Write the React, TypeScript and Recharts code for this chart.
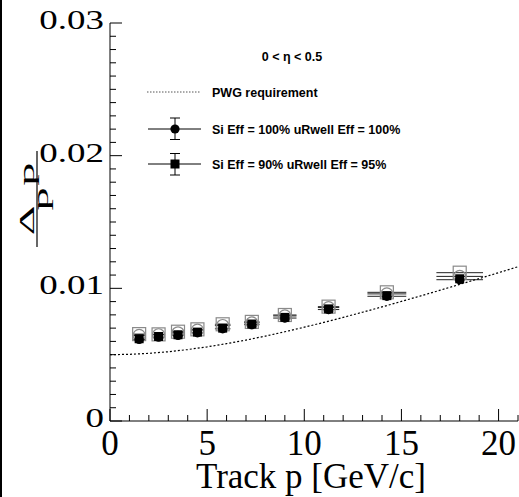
import { ScatterChart, Scatter, XAxis, YAxis, ErrorBar } from "recharts";

// bin centres and half widths of track momentum [GeV/c]
const pCenters = [1.5, 2.5, 3.5, 4.5, 5.8, 7.3, 9.0, 11.25, 14.25, 18.0];
const pHalfWidth = [0.3, 0.3, 0.3, 0.3, 0.4, 0.4, 0.6, 0.55, 1.0, 1.2];

// dp/p for each configuration
const siFullUrwellFull = [0.00615, 0.00632, 0.00645, 0.00665, 0.00695, 0.00726, 0.00776, 0.0084, 0.0094, 0.01065];
const si90Urwell95 = [0.0062, 0.00637, 0.0065, 0.0067, 0.007, 0.00731, 0.00781, 0.00845, 0.00945, 0.01072];
const openCircleVals = [0.00645, 0.0065, 0.00665, 0.00685, 0.0072, 0.0074, 0.00792, 0.00855, 0.00958, 0.0109];
const openSquareVals = [0.00655, 0.00653, 0.00673, 0.00691, 0.00729, 0.00747, 0.00799, 0.00862, 0.0097, 0.01118];

// PWG requirement curve
const pwgP = [0, 1, 2, 3, 4, 5, 6, 7, 8, 9, 10, 11, 12, 13, 14, 15, 16, 17, 18, 19, 20, 21];
const pwgRes = [
  0.005, 0.005025, 0.0051, 0.00522, 0.005385, 0.00559, 0.00583, 0.0061, 0.0064, 0.006727, 0.00707,
  0.00743, 0.00781, 0.0082, 0.0086, 0.009014, 0.009434, 0.00986, 0.0103, 0.010735, 0.01118, 0.01163,
];

const xTicks = Array.from({ length: 22 }, (_, i) => i);
const yTicks = Array.from({ length: 31 }, (_, i) => +(i * 0.001).toFixed(3));

const toRows = (vals: number[]) =>
  pCenters.map((p, i) => ({ p, v: vals[i], ex: pHalfWidth[i] }));

const pwgRows = pwgP.map((p, i) => ({ p, v: pwgRes[i] }));

const serif = "'Liberation Serif', 'Times New Roman', serif";
const sans = "'Liberation Sans', Arial, sans-serif";

const isMajorX = (v: number) => Math.abs(v % 5) < 1e-6;
const isMajorY = (v: number) => Math.abs(v * 100 - Math.round(v * 100)) < 1e-6;

function BottomTick({ x, y, payload }: any) {
  const v = payload.value;
  const major = isMajorX(v);
  return (
    <g>
      <line x1={x} x2={x} y1={y} y2={y - (major ? 12 : 6)} stroke="#000" />
      {major && (
        <text x={x} y={y + 34} textAnchor="middle" style={{ fontFamily: serif }} fontSize={35} fill="#000">
          {v}
        </text>
      )}
    </g>
  );
}

function TopTick({ x, y, payload }: any) {
  const major = isMajorX(payload.value);
  return <line x1={x} x2={x} y1={y} y2={y + (major ? 12 : 6)} stroke="#000" />;
}

function LeftTick({ x, y, payload }: any) {
  const v = payload.value;
  const major = isMajorY(v);
  return (
    <g>
      <line x1={x} x2={x + (major ? 12 : 6)} y1={y} y2={y} stroke="#000" />
      {major && (
        <g transform={`translate(${x - 6},${y + 6})`}>
          <text textAnchor="end" transform="scale(1.32,1)" style={{ fontFamily: serif }} fontSize={28} fill="#000">
            {v === 0 ? "0" : v.toFixed(2)}
          </text>
        </g>
      )}
    </g>
  );
}

function RightTick({ x, y, payload }: any) {
  const major = isMajorY(payload.value);
  return <line x1={x} x2={x - (major ? 12 : 6)} y1={y} y2={y} stroke="#000" />;
}

const FilledCircle = ({ cx, cy }: any) => <circle cx={cx} cy={cy} r={4.6} fill="#000" />;
const FilledSquare = ({ cx, cy }: any) => <rect x={cx - 4.5} y={cy - 4.5} width={9} height={9} fill="#000" />;
const OpenCircle = ({ cx, cy }: any) => (
  <circle cx={cx} cy={cy} r={6} fill="none" stroke="#8a8a8a" strokeWidth={1.2} />
);
const OpenSquare = ({ cx, cy }: any) => (
  <rect x={cx - 6.5} y={cy - 6.5} width={13} height={13} fill="none" stroke="#8a8a8a" strokeWidth={1.2} />
);
const NoMark = () => <g />;

export default function App() {
  return (
    <div style={{ position: "absolute", left: 0, top: 0, width: 519, height: 497, background: "#fff", overflow: "hidden" }}>
      <ScatterChart width={519} height={497} margin={{ top: 23, right: 1, bottom: 0, left: 0 }}>
        <XAxis
          xAxisId="b"
          type="number"
          dataKey="p"
          domain={[0, 21]}
          ticks={xTicks}
          interval={0}
          allowDataOverflow
          height={76}
          tickSize={0}
          tickMargin={0}
          tickLine={false}
          axisLine={{ stroke: "#000" }}
          tick={(props: any) => <BottomTick {...props} />}
        />
        <XAxis
          xAxisId="t"
          orientation="top"
          type="number"
          dataKey="p"
          domain={[0, 21]}
          ticks={xTicks}
          interval={0}
          allowDataOverflow
          height={0}
          tickSize={0}
          tickMargin={0}
          tickLine={false}
          axisLine={{ stroke: "#000" }}
          tick={(props: any) => <TopTick {...props} />}
        />
        <YAxis
          yAxisId="l"
          type="number"
          dataKey="v"
          domain={[0, 0.03]}
          ticks={yTicks}
          interval={0}
          allowDataOverflow
          width={110}
          tickSize={0}
          tickMargin={0}
          tickLine={false}
          axisLine={{ stroke: "#000" }}
          tick={(props: any) => <LeftTick {...props} />}
        />
        <YAxis
          yAxisId="r"
          orientation="right"
          type="number"
          dataKey="v"
          domain={[0, 0.03]}
          ticks={yTicks}
          interval={0}
          allowDataOverflow
          width={0}
          tickSize={0}
          tickMargin={0}
          tickLine={false}
          axisLine={{ stroke: "#000" }}
          tick={(props: any) => <RightTick {...props} />}
        />

        <Scatter
          xAxisId="b"
          yAxisId="l"
          data={pwgRows}
          dataKey="v"
          shape={NoMark}
          line={{ stroke: "#000", strokeWidth: 1.2, strokeDasharray: "2 2" }}
          isAnimationActive={false}
        />
        <Scatter xAxisId="b" yAxisId="l" data={toRows(openSquareVals)} dataKey="v" shape={OpenSquare} isAnimationActive={false}>
          <ErrorBar dataKey="ex" direction="x" width={0} stroke="#222" strokeWidth={1} />
        </Scatter>
        <Scatter xAxisId="b" yAxisId="l" data={toRows(openCircleVals)} dataKey="v" shape={OpenCircle} isAnimationActive={false}>
          <ErrorBar dataKey="ex" direction="x" width={0} stroke="#222" strokeWidth={1} />
        </Scatter>
        <Scatter xAxisId="b" yAxisId="l" data={toRows(si90Urwell95)} dataKey="v" shape={FilledSquare} isAnimationActive={false} />
        <Scatter xAxisId="b" yAxisId="l" data={toRows(siFullUrwellFull)} dataKey="v" shape={FilledCircle} isAnimationActive={false}>
          <ErrorBar dataKey="ex" direction="x" width={0} stroke="#222" strokeWidth={1} />
        </Scatter>
      </ScatterChart>

      <svg width={519} height={497} style={{ position: "absolute", left: 0, top: 0, pointerEvents: "none" }}>
        <rect x={0} y={0} width={2} height={497} fill="#000" />

        {/* y title: Δp / p */}
        <g transform="translate(37,199) rotate(-90)">
          <line x1={-48} x2={48} y1={0} y2={0} stroke="#000" strokeWidth={1.2} />
          <g transform="translate(0,-3) scale(2.2,1)">
            <text textAnchor="middle" style={{ fontFamily: serif }} fontSize={21} fill="#000">
              Δ<tspan dx={9}>p</tspan>
            </text>
          </g>
          <g transform="translate(0,11) scale(2.2,1)">
            <text textAnchor="middle" style={{ fontFamily: serif }} fontSize={21} fill="#000">
              p
            </text>
          </g>
        </g>

        <text x={311} y={488} textAnchor="middle" style={{ fontFamily: serif }} fontSize={35} fill="#000">
          Track p [GeV/c]
        </text>

        {/* legend */}
        <text x={292} y={61} textAnchor="middle" style={{ fontFamily: sans }} fontWeight="bold" fontSize={12.5} fill="#000">
          0 &lt; η &lt; 0.5
        </text>
        <line x1={147} x2={200} y1={92} y2={92} stroke="#555" strokeWidth={1} strokeDasharray="1.5 1.5" />
        <text x={212} y={96.5} style={{ fontFamily: sans }} fontWeight="bold" fontSize={12.5} fill="#000">
          PWG requirement
        </text>

        <line x1={148} x2={201} y1={129} y2={129} stroke="#000" />
        <line x1={175} x2={175} y1={118} y2={139.5} stroke="#000" />
        <line x1={170} x2={180} y1={118} y2={118} stroke="#000" />
        <line x1={170} x2={180} y1={139.5} y2={139.5} stroke="#000" />
        <circle cx={175} cy={129} r={4.6} fill="#000" />
        <text x={212} y={133.5} style={{ fontFamily: sans }} fontWeight="bold" fontSize={12.5} fill="#000">
          Si Eff = 100% uRwell Eff = 100%
        </text>

        <line x1={148} x2={201} y1={164} y2={164} stroke="#000" />
        <line x1={175} x2={175} y1={153.5} y2={175} stroke="#000" />
        <line x1={170} x2={180} y1={153.5} y2={153.5} stroke="#000" />
        <line x1={170} x2={180} y1={175} y2={175} stroke="#000" />
        <rect x={170.5} y={159.5} width={9} height={9} fill="#000" />
        <text x={212} y={168.5} style={{ fontFamily: sans }} fontWeight="bold" fontSize={12.5} fill="#000">
          Si Eff = 90% uRwell Eff = 95%
        </text>
      </svg>
    </div>
  );
}
